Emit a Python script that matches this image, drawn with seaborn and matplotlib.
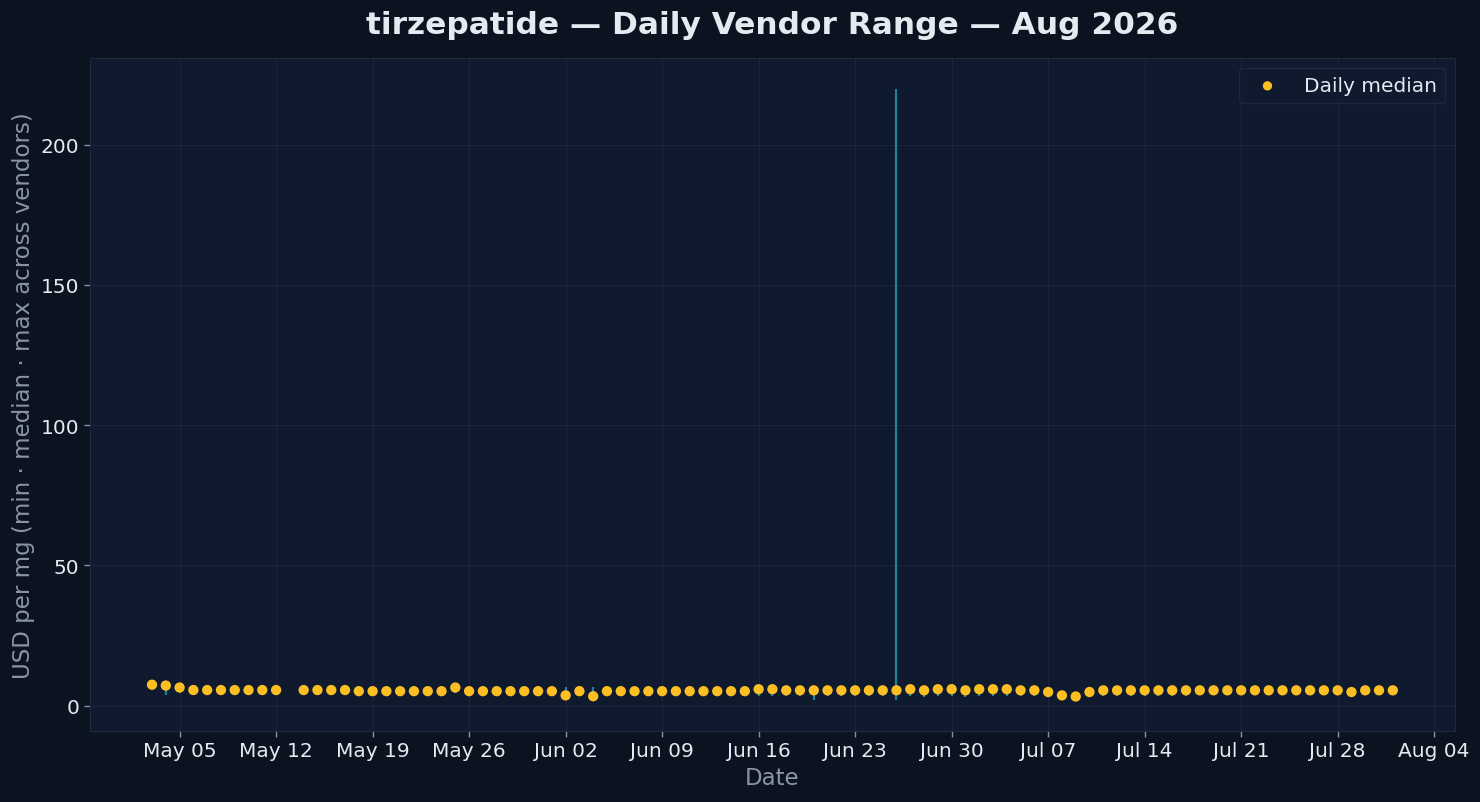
import pandas as pd
import matplotlib
matplotlib.use("Agg")
import matplotlib.pyplot as plt
import matplotlib.dates as mdates
import seaborn as sns

# 每日数据：2026-05-03 ~ 2026-08-01（缺 05-13）
dates = pd.date_range("2026-05-03", "2026-08-01", freq="D")
dates = dates[dates != pd.Timestamp("2026-05-13")]

median_vals = [
    7.5, 7.2, 6.5,
    5.6, 5.6, 5.6, 5.6, 5.6, 5.6, 5.6,
    5.6, 5.6, 5.6, 5.6,
    5.2, 5.2, 5.2, 5.2, 5.2, 5.2, 5.2,
    6.5,
    5.2, 5.2, 5.2, 5.2, 5.2, 5.2, 5.2,
    3.7, 5.2, 3.4,
    5.2, 5.2, 5.2, 5.2, 5.2, 5.2, 5.2, 5.2, 5.2, 5.2, 5.2,
    5.9, 5.9,
    5.5, 5.5, 5.5, 5.5, 5.5, 5.5, 5.5, 5.5, 5.5,
    5.9, 5.5, 5.9, 5.9, 5.5, 5.9, 5.9, 5.9, 5.5, 5.5,
    4.9, 3.7, 3.3, 4.9,
    5.5, 5.5, 5.5, 5.5, 5.5, 5.5, 5.5, 5.5, 5.5,
    5.5, 5.5, 5.5, 5.5, 5.5, 5.5, 5.5, 5.5, 5.5,
    4.9,
    5.5, 5.5, 5.5,
]

min_vals = [
    7.0, 3.9, 4.4,
    4.8, 4.8, 4.8, 4.8, 4.8, 4.8, 4.8,
    4.8, 4.8, 4.8, 4.8,
    4.5, 4.5, 4.5, 4.5, 4.5, 4.5, 4.5,
    4.6,
    4.5, 4.5, 4.5, 4.5, 4.5, 4.5, 4.5,
    1.9, 4.5, 3.0,
    4.5, 4.5, 4.5, 4.5, 4.5, 4.5, 4.5, 4.5, 4.5, 4.5, 4.5,
    3.6, 3.6,
    3.6, 3.6, 1.9, 3.6, 3.6, 3.6, 3.6, 3.6, 1.9,
    3.6, 3.2, 3.6, 3.6, 3.2, 3.6, 3.6, 3.6, 3.6, 3.6,
    3.6, 3.3, 3.0, 3.6,
    3.6, 3.6, 3.6, 3.6, 3.6, 3.6, 3.6, 4.2, 4.2,
    4.2, 4.2, 4.2, 4.2, 4.2, 4.2, 4.2, 4.2, 4.5,
    4.5,
    4.8, 4.8, 4.8,
]

max_vals = [
    7.9, 7.8, 7.0,
    6.2, 6.2, 6.2, 6.2, 6.2, 6.2, 6.2,
    6.2, 6.2, 6.5, 6.5,
    5.8, 5.8, 5.8, 5.8, 5.8, 5.8, 5.8,
    7.2,
    5.8, 5.8, 5.8, 5.8, 5.8, 5.8, 5.8,
    6.8, 5.8, 6.7,
    5.8, 5.8, 5.8, 5.8, 5.8, 5.8, 5.8, 5.8, 5.8, 5.8, 5.8,
    6.5, 6.5,
    6.1, 6.1, 6.1, 6.1, 6.1, 6.1, 6.1, 6.1, 220.0,
    6.5, 6.1, 6.5, 6.5, 6.1, 6.5, 6.5, 6.5, 6.1, 6.1,
    5.5, 4.2, 3.8, 5.5,
    6.1, 6.1, 6.1, 6.1, 6.1, 6.1, 6.1, 6.1, 6.1,
    6.1, 6.1, 6.1, 6.1, 6.1, 6.1, 6.1, 6.1, 6.1,
    5.4,
    6.1, 6.1, 6.1,
]

df = pd.DataFrame({
    "date": dates,
    "median": median_vals,
    "min": min_vals,
    "max": max_vals,
})

# 配色
fig_bg = "#0b1220"
ax_bg = "#0f1a2e"
grid_c = "#1d2940"
text_c = "#e5e9f0"
label_c = "#8a94a6"
gold = "#fbbf24"
teal = "#1f8faa"

sns.set_theme(style="darkgrid")
plt.rcParams["font.family"] = ["DejaVu Sans"]

fig = plt.figure(figsize=(14.8, 8.03), dpi=100, facecolor=fig_bg)
ax = fig.add_axes([0.0608, 0.0884, 0.9222, 0.8381])
ax.set_facecolor(ax_bg)

# 区间线（最小值 ~ 最大值）
ax.vlines(df["date"], df["min"], df["max"], color=teal, linewidth=1.6, alpha=0.9, zorder=2)

# 每日中位数
sns.scatterplot(data=df, x="date", y="median", ax=ax, color=gold, s=55,
                edgecolor="none", label="Daily median", zorder=3)

ax.xaxis.set_major_locator(mdates.WeekdayLocator(byweekday=mdates.TU))
ax.xaxis.set_major_formatter(mdates.DateFormatter("%b %d"))

ax.grid(True, color=grid_c, linewidth=0.8, alpha=0.8)
for s in ax.spines.values():
    s.set_visible(True)
    s.set_color("#1f2a3d")
    s.set_linewidth(0.8)

ax.tick_params(axis="both", colors=label_c, labelcolor=text_c, labelsize=14.5,
               length=4, width=1, direction="out", bottom=True, left=True)

ax.set_xlabel("Date", color=label_c, fontsize=16.5)
ax.set_ylabel("USD per mg (min · median · max across vendors)", color=label_c, fontsize=16.5)
ax.set_title("tirzepatide — Daily Vendor Range — Aug 2026", color=text_c,
             fontsize=22.5, fontweight="bold", pad=18)

leg = ax.legend(loc="upper right", fontsize=14.5, frameon=True, facecolor=ax_bg,
                edgecolor="#1f2a3d", labelcolor=text_c, markerscale=0.9)
leg.get_frame().set_alpha(0.9)

fig.savefig("out.png", dpi=100, facecolor=fig_bg)
plt.close(fig)
